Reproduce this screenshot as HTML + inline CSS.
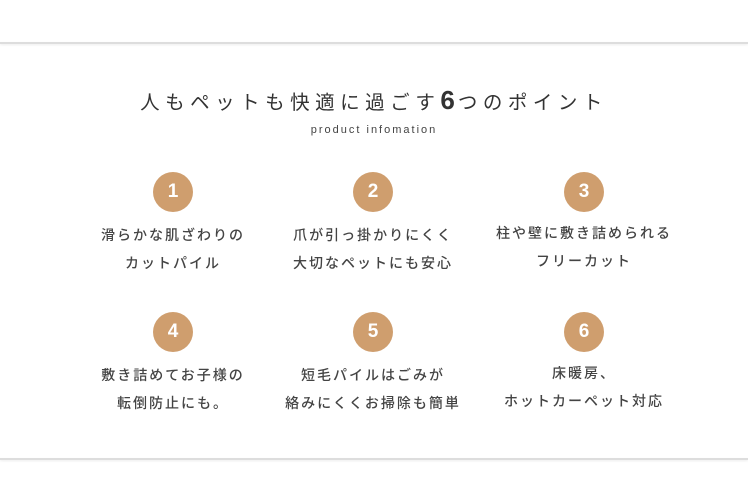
<!DOCTYPE html>
<html><head><meta charset="utf-8"><style>
body{margin:0;width:748px;height:500px;background:#fff;position:relative;overflow:hidden;font-family:"Liberation Sans","Noto Sans CJK JP",sans-serif;color:#333}
.band{position:absolute;left:0;width:748px;height:2px;background:#ddd;box-shadow:0 1px 2px rgba(0,0,0,.08)}
.t{position:absolute;left:0;width:748px;text-align:center}
.c{position:absolute;width:40px;height:40px;border-radius:50%;background:#cf9e6e;color:#fff;font-weight:bold;font-size:19px;line-height:40px;text-align:center}
.x{position:absolute;width:240px;text-align:center;font-size:14px;letter-spacing:2px;line-height:28px;color:#444;font-weight:500}
</style></head><body>
<div class="band" style="top:42px"></div>
<div class="band" style="top:458px"></div>
<div class="t" style="top:85px;font-size:19.5px;letter-spacing:5.5px;color:#333">人もペットも快適に過ごす<b style="font-size:26px;letter-spacing:3px">6</b>つのポイント</div>
<div class="t" style="top:124px;font-size:11px;letter-spacing:2px;color:#444">product infomation</div>
<div class="c" style="left:153px;top:172px">1</div>
<div class="c" style="left:353px;top:172px">2</div>
<div class="c" style="left:564px;top:172px">3</div>
<div class="x" style="left:53px;top:221px">滑らかな肌ざわりの<br>カットパイル</div>
<div class="x" style="left:253px;top:221px">爪が引っ掛かりにくく<br>大切なペットにも安心</div>
<div class="x" style="left:464px;top:219px">柱や壁に敷き詰められる<br>フリーカット</div>
<div class="c" style="left:153px;top:312px">4</div>
<div class="c" style="left:353px;top:312px">5</div>
<div class="c" style="left:564px;top:312px">6</div>
<div class="x" style="left:53px;top:361px">敷き詰めてお子様の<br>転倒防止にも。</div>
<div class="x" style="left:253px;top:361px">短毛パイルはごみが<br>絡みにくくお掃除も簡単</div>
<div class="x" style="left:464px;top:359px">床暖房、<br>ホットカーペット対応</div>
</body></html>
